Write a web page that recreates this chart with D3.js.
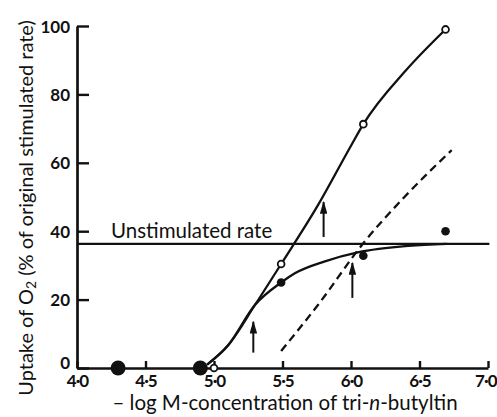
<!DOCTYPE html>
<html><head><meta charset="utf-8">
<script src="https://cdn.jsdelivr.net/npm/d3@7"></script>
<style>
body{margin:0;background:#fff;}
svg text{font-family:Lato,"Open Sans",sans-serif;fill:#111;}
</style></head>
<body><svg id="c" width="497" height="417"></svg>
<script>
// ---- data ----
const xTicks = [4.0, 4.5, 5.0, 5.5, 6.0, 6.5, 7.0];
const yTicks = [0, 20, 40, 60, 80, 100];
const xTickLabels = ["4·0","4·5","5·0","5·5","6·0","6·5","7·0"];
const bigFilledX = [4.3, 4.9];
const bigFilledY = [0, 0];
const openX = [5.0, 5.49, 6.09, 6.69];
const openY = [0, 30.4, 71.3, 99];
const filledX = [5.49, 6.09, 6.69];
const filledY = [25, 32.8, 40];
const openCurveX = [4.95, 5.1, 5.3, 5.49, 5.76, 6.0, 6.09, 6.4, 6.69];
const openCurveY = [1, 6.5, 18.5, 30.4, 47.7, 65, 71.3, 87, 99];
const filledCurveX = [4.95, 5.1, 5.3, 5.49, 5.59, 5.81, 6.05, 6.42, 6.7];
const filledCurveY = [1, 6.5, 18.5, 25, 27.7, 31.2, 33.8, 35.7, 36.3];
const dashedX = [5.49, 5.76, 6.09, 6.39, 6.735];
const dashedY = [5, 18.5, 36.5, 50, 63.7];
const unstimulatedRate = 36.3;
const arrowX = [5.287, 5.80, 6.01];
const arrowFrom = [4.5, 38.3, 20.5];
const arrowTo = [13.5, 48.5, 30.7];

// ---- chart ----
const svg = d3.select("#c");
const x = d3.scaleLinear().domain([4, 7]).range([77, 488]);
const y = d3.scaleLinear().domain([0, 100]).range([368, 26]);
const g = svg.append("g");

// axes
const xAxis = d3.axisBottom(x).tickValues(xTicks).tickSize(-7).tickSizeOuter(0).tickPadding(7)
  .tickFormat((d,i)=>xTickLabels[i]);
const gx = g.append("g").attr("transform",`translate(0,${y(0)})`).call(xAxis);
const yAxis = d3.axisLeft(y).tickValues(yTicks).tickSize(-12).tickSizeOuter(0).tickPadding(7);
const gy = g.append("g").attr("transform",`translate(${x(4)},0)`).call(yAxis);
[gx, gy].forEach(a=>{
  a.select(".domain").attr("stroke","#111").attr("stroke-width",2.7);
  a.selectAll(".tick line").attr("stroke","#111").attr("stroke-width",2.4);
  a.selectAll(".tick text").style("font-family","Lato, sans-serif").style("font-size","17px")
    .style("font-weight","bold").attr("fill","#111");
});
gx.selectAll(".tick text").style("letter-spacing","-1px");
gx.selectAll(".tick").filter(d=>d===7).select("text").attr("text-anchor","end").attr("dx","8");
gy.selectAll(".tick text").attr("dy","0.36em");
gy.selectAll(".tick").filter(d=>d===0).select("text").attr("dy","0.0em");

// unstimulated line
g.append("line").attr("x1",x(4)).attr("x2",x(7.01)).attr("y1",y(unstimulatedRate)).attr("y2",y(unstimulatedRate))
  .attr("stroke","#111").attr("stroke-width",2.3);
g.append("text").attr("x",111).attr("y",y(unstimulatedRate)-6).style("font-size","20.5px").text("Unstimulated rate");

// curves
const line = d3.line().x(d=>x(d[0])).y(d=>y(d[1])).curve(d3.curveMonotoneX);
g.append("path").attr("d", line(d3.zip(openCurveX, openCurveY))).attr("fill","none").attr("stroke","#111").attr("stroke-width",2.3);
g.append("path").attr("d", line(d3.zip(filledCurveX, filledCurveY))).attr("fill","none").attr("stroke","#111").attr("stroke-width",2.3);
g.append("path").attr("d", line(d3.zip(dashedX, dashedY))).attr("fill","none").attr("stroke","#111").attr("stroke-width",2.3)
  .attr("stroke-dasharray","8,5");

// arrows
svg.append("defs").append("marker").attr("id","ah").attr("viewBox","0 0 10 10").attr("refX",9).attr("refY",5)
  .attr("markerWidth",6.5).attr("markerHeight",3.8).attr("markerUnits","strokeWidth").attr("orient","auto")
  .attr("preserveAspectRatio","none")
  .append("path").attr("d","M0,0 L10,5 L0,10 Z").attr("fill","#111");
arrowX.forEach((ax,i)=>{
  g.append("line").attr("x1",x(ax)).attr("x2",x(ax)).attr("y1",y(arrowFrom[i])).attr("y2",y(arrowTo[i]))
    .attr("stroke","#111").attr("stroke-width",2).attr("marker-end","url(#ah)");
});

// points
bigFilledX.forEach((px,i)=>g.append("circle").attr("cx",x(px)).attr("cy",y(bigFilledY[i])).attr("r",7.5).attr("fill","#111"));
filledX.forEach((px,i)=>g.append("circle").attr("cx",x(px)).attr("cy",y(filledY[i])).attr("r",4.3).attr("fill","#111"));
openX.forEach((px,i)=>g.append("circle").attr("cx",x(px)).attr("cy",y(openY[i])).attr("r",3.4).attr("fill","#fff").attr("stroke","#111").attr("stroke-width",1.8));

// axis titles
const xt = svg.append("text").attr("x",285).attr("y",410).attr("text-anchor","middle").style("font-size","20.5px");
xt.append("tspan").text("– log M-concentration of tri-");
xt.append("tspan").style("font-style","italic").text("n");
xt.append("tspan").text("-butyltin");

const yt = svg.append("text").attr("transform","translate(33,208) rotate(-90)").attr("text-anchor","middle").style("font-size","20px");
yt.append("tspan").text("Uptake of O");
yt.append("tspan").attr("baseline-shift","-20%").style("font-size","14px").text("2");
yt.append("tspan").text(" (% of original stimulated rate)");
</script></body></html>
